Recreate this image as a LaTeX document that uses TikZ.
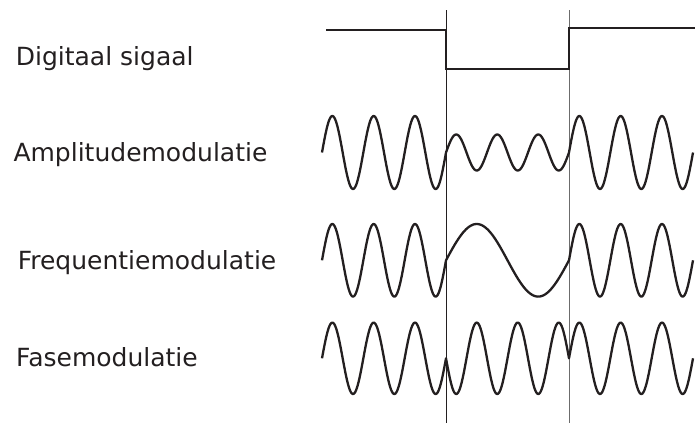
\documentclass[tikz,border=0pt]{standalone}
\usepackage{fontspec}
\setmainfont{DejaVu Sans}
\definecolor{ink}{HTML}{231F20}
\begin{document}
\begin{tikzpicture}[x=1pt,y=-1pt,
  wave/.style={draw=ink,line width=2.3pt,line join=round},
  marker/.style={draw=ink,line width=0.9pt},
  lbl/.style={anchor=base west,inner sep=0pt,text=ink,font=\fontsize{25}{30}\selectfont}]
\useasboundingbox (0,0) rectangle (695,424);
% labels
\node[lbl] (ldig) at (15.6,65) {Digitaal sigaal};
\node[lbl] (lam) at (13.3,161.7) {Amplitudemodulatie};
\node[lbl] (lfm) at (17.6,269.3) {Frequentiemodulatie};
\node[lbl] (lpm) at (16,366.7) {Fasemodulatie};
% vertical markers
\draw[marker] (446,10) -- (446,423);
\draw[marker,draw=gray!85!black] (569,10) -- (569,423);
% digital signal
\draw[wave,line join=miter] (326,30) -- (446,30) -- (446,69) -- (569,69) -- (569,28.3) -- (695,28.3);
% AM
\draw[wave] plot[domain=0:124,samples=150,smooth] ({322+\x},{152.5-36.5*sin(\x/124*1080)})
  -- plot[domain=0:123,samples=150,smooth] ({446+\x},{152.5-18*sin(\x/123*1080)})
  -- plot[domain=0:124,samples=150,smooth] ({569+\x},{152.5-36.5*sin(\x/124*1080)});
% FM
\draw[wave] plot[domain=0:124,samples=150,smooth] ({322+\x},{260.3-36.3*sin(\x/124*1080)})
  -- plot[domain=0:123,samples=80,smooth] ({446+\x},{260.3-36.3*sin(\x/123*360)})
  -- plot[domain=0:124,samples=150,smooth] ({569+\x},{260.3-36.3*sin(\x/124*1080)});
% PM
\draw[wave] plot[domain=0:124,samples=150,smooth] ({322+\x},{358.3-35.7*sin(\x/124*1080)})
  -- plot[domain=0:123,samples=150,smooth] ({446+\x},{358.3+35.7*sin(\x/123*1080)})
  -- plot[domain=0:124,samples=150,smooth] ({569+\x},{358.3-35.7*sin(\x/124*1080)});
\end{tikzpicture}
\end{document}
